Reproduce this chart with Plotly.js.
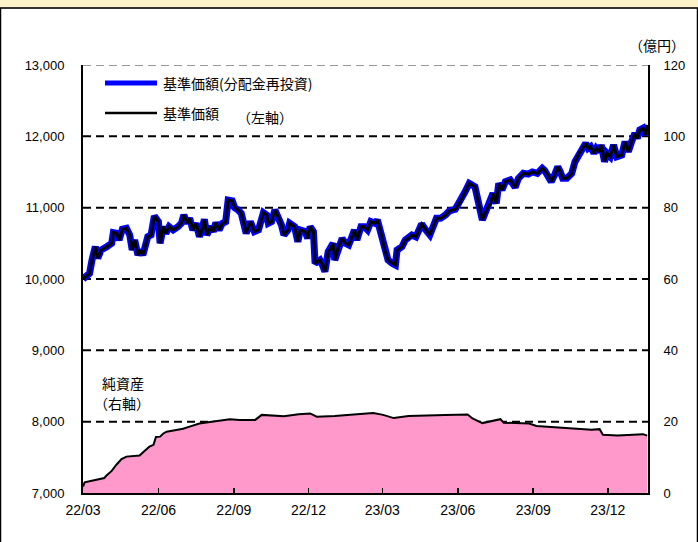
<!DOCTYPE html>
<html>
<head>
<meta charset="utf-8">
<script src="https://cdn.plot.ly/plotly-3.0.1.min.js"></script>
<style>
html,body{margin:0;padding:0;background:#fff;}
#chart{width:698px;height:542px;}
</style>
</head>
<body>
<div id="chart"></div>
<script>
// ---- data ----
const navDates = ['2022-03-01','2022-03-09','2022-03-12','2022-03-16','2022-03-19','2022-03-23','2022-03-30','2022-04-05','2022-04-07','2022-04-11',
'2022-04-14','2022-04-18','2022-04-23','2022-04-27','2022-04-30','2022-05-03','2022-05-07','2022-05-10','2022-05-13','2022-05-19',
'2022-05-23','2022-05-27','2022-06-01','2022-06-03','2022-06-07','2022-06-10','2022-06-14','2022-06-19','2022-06-25','2022-06-29',
'2022-07-02','2022-07-06','2022-07-09','2022-07-13','2022-07-17','2022-07-21','2022-07-24','2022-07-27','2022-07-30','2022-08-04',
'2022-08-07','2022-08-10','2022-08-14','2022-08-18','2022-08-22','2022-08-25','2022-08-30','2022-09-02','2022-09-06','2022-09-10',
'2022-09-16','2022-09-21','2022-09-26','2022-10-01','2022-10-07','2022-10-11','2022-10-13','2022-10-17','2022-10-21','2022-10-25',
'2022-10-29','2022-11-01','2022-11-06','2022-11-08','2022-11-14','2022-11-18','2022-11-21','2022-11-27','2022-11-30','2022-12-03',
'2022-12-07','2022-12-09','2022-12-15','2022-12-18','2022-12-21','2022-12-25','2022-12-28','2022-12-31','2023-01-02','2023-01-06',
'2023-01-11','2023-01-15','2023-01-19','2023-01-23','2023-01-26','2023-01-29','2023-02-03','2023-02-07','2023-02-11','2023-02-15',
'2023-02-20','2023-02-23','2023-02-28','2023-03-04','2023-03-08','2023-03-13','2023-03-17','2023-03-19','2023-03-25','2023-03-29',
'2023-04-02','2023-04-06','2023-04-11','2023-04-18','2023-04-23','2023-04-28','2023-05-06','2023-05-11','2023-05-17','2023-05-22',
'2023-05-29','2023-06-04','2023-06-10','2023-06-15','2023-06-22','2023-07-01','2023-07-07','2023-07-11','2023-07-14','2023-07-18',
'2023-07-21','2023-07-25','2023-07-29','2023-08-04','2023-08-10','2023-08-14','2023-08-20','2023-08-26','2023-08-31','2023-09-06',
'2023-09-12','2023-09-15','2023-09-19','2023-09-23','2023-09-27','2023-10-01','2023-10-04','2023-10-07','2023-10-12','2023-10-18',
'2023-10-22','2023-10-27','2023-10-30','2023-11-04','2023-11-07','2023-11-10','2023-11-14','2023-11-17','2023-11-21','2023-11-23',
'2023-11-27','2023-11-30','2023-12-04','2023-12-08','2023-12-12','2023-12-18','2023-12-22','2023-12-26','2023-12-30','2024-01-03',
'2024-01-06','2024-01-09','2024-01-13','2024-01-16','2024-01-18'];

// 基準価額
const navValues = [10000,10080,10266,10453,10290,10406,10453,10500,10650,10640,
10547,10697,10711,10617,10406,10547,10336,10406,10336,10594,
10617,10883,10804,10500,10734,10640,10734,10687,10734,10781,
10897,10781,10851,10687,10781,10594,10687,10837,10617,10734,
10664,10790,10687,10781,10804,11107,11097,11000,10967,10921,
10640,10804,10664,10687,10930,10897,10781,10804,10967,10874,
10757,10617,10687,10781,10734,10523,10687,10664,10570,10734,
10664,10220,10266,10196,10103,10383,10430,10500,10266,10430,
10570,10500,10477,10594,10687,10547,10734,10734,10687,10804,
10781,10827,10617,10406,10266,10220,10196,10406,10453,10547,
10570,10617,10590,10771,10687,10617,10851,10851,10897,10957,
10977,11084,11224,11341,11294,10827,10991,11061,11200,11061,
11341,11248,11364,11388,11285,11411,11481,11470,11500,11481,
11551,11520,11458,11364,11458,11574,11504,11411,11411,11481,
11645,11762,11808,11902,11832,11855,11762,11832,11785,11879,
11645,11762,11715,11879,11715,11738,11926,11785,11926,12043,
11973,12089,12113,12019,12159];

// 基準価額(分配金再投資) — coincides with 基準価額 in the reference
const navReinvestValues = [10000,10080,10266,10453,10290,10406,10453,10500,10650,10640,
10547,10697,10711,10617,10406,10547,10336,10406,10336,10594,
10617,10883,10804,10500,10734,10640,10734,10687,10734,10781,
10897,10781,10851,10687,10781,10594,10687,10837,10617,10734,
10664,10790,10687,10781,10804,11107,11097,11000,10967,10921,
10640,10804,10664,10687,10930,10897,10781,10804,10967,10874,
10757,10617,10687,10781,10734,10523,10687,10664,10570,10734,
10664,10220,10266,10196,10103,10383,10430,10500,10266,10430,
10570,10500,10477,10594,10687,10547,10734,10734,10687,10804,
10781,10827,10617,10406,10266,10220,10196,10406,10453,10547,
10570,10617,10590,10771,10687,10617,10851,10851,10897,10957,
10977,11084,11224,11341,11294,10827,10991,11061,11200,11061,
11341,11248,11364,11388,11285,11411,11481,11470,11500,11481,
11551,11520,11458,11364,11458,11574,11504,11411,11411,11481,
11645,11762,11808,11902,11832,11855,11762,11832,11785,11879,
11645,11762,11715,11879,11715,11738,11926,11785,11926,12043,
11973,12089,12113,12019,12159];

// 純資産 (億円)
const assetDates = ['2022-03-01','2022-03-03','2022-03-09','2022-03-15','2022-03-21','2022-03-27','2022-03-30','2022-04-05','2022-04-11','2022-04-17',
'2022-04-23','2022-05-01','2022-05-09','2022-05-15','2022-05-21','2022-05-26','2022-05-29','2022-06-03','2022-06-07','2022-06-11',
'2022-06-21','2022-07-01','2022-07-09','2022-07-21','2022-08-03','2022-08-15','2022-08-27','2022-09-08','2022-09-27','2022-10-05',
'2022-10-15','2022-11-01','2022-11-19','2022-12-03','2022-12-11','2023-01-02','2023-01-29','2023-02-18','2023-03-02','2023-03-15',
'2023-04-02','2023-04-22','2023-05-17','2023-06-13','2023-06-19','2023-07-01','2023-07-13','2023-07-23','2023-07-27','2023-08-27',
'2023-09-05','2023-09-26','2023-10-10','2023-11-11','2023-11-21','2023-11-25','2023-12-13','2024-01-13','2024-01-18'];
const assetValues = [1.8,3.0,3.3,3.6,3.9,4.2,5.0,6.2,8.0,9.5,
10.2,10.3,10.5,11.8,13.0,13.5,15.7,15.8,16.7,17.2,
17.6,18.0,18.6,19.5,19.9,20.3,20.7,20.5,20.5,21.9,
21.8,21.5,22.1,22.3,21.4,21.6,22.1,22.4,21.9,21.0,
21.6,21.8,21.9,22.0,20.9,19.6,20.3,20.7,19.7,19.5,
18.8,18.5,18.1,17.7,17.9,16.3,16.1,16.5,16.1];

const xTickVals = ['2022-03-01','2022-06-01','2022-09-01','2022-12-01','2023-03-01','2023-06-01','2023-09-01','2023-12-01'];
const xTickText = ['22/03','22/06','22/09','22/12','23/03','23/06','23/09','23/12'];
const xRange = ['2022-03-01','2024-01-19'];
const yLeftTicks = [7000,8000,9000,10000,11000,12000,13000];
const yRightTicks = [0,20,40,60,80,100,120];
const gridVals = [8000,9000,10000,11000,12000];
const topVal = 13000;

const seriesNames = ['基準価額(分配金再投資)','基準価額','純資産'];

// ---- drawing ----
const FONT = 'Liberation Sans, Arial, "Noto Sans CJK JP", sans-serif';
const CJK = '"Noto Sans CJK JP", sans-serif';

const traces = [
  {
    x: assetDates, y: assetValues, yaxis: 'y2', name: seriesNames[2],
    type: 'scatter', mode: 'lines', fill: 'tozeroy',
    fillcolor: '#ff99cc', line: {color: '#000', width: 2}, hoverinfo: 'skip'
  },
  {
    x: navDates, y: navReinvestValues, name: seriesNames[0],
    type: 'scatter', mode: 'lines', line: {color: '#0000ff', width: 7}
  },
  {
    x: navDates, y: navValues, name: seriesNames[1],
    type: 'scatter', mode: 'lines', line: {color: '#000000', width: 3}
  }
];

// paper coordinate helpers for the decorative frame (plot area: l=83,r=50,t=65,b=49)
const PW = 565, PH = 428, L = 83, T = 65;
const px = v => (v - L) / PW;
const py = v => (T + PH - v) / PH;

const shapes = [];
gridVals.forEach(v => shapes.push({type:'line', xref:'paper', x0:0, x1:1, yref:'y', y0:v, y1:v,
  line:{color:'#000', width:2, dash:'8px,5px'}, layer:'below'}));
shapes.push({type:'line', xref:'paper', x0:0, x1:1, yref:'y', y0:topVal, y1:topVal,
  line:{color:'#999', width:2, dash:'8px,5px'}, layer:'below'});
// top cream band & frame
shapes.push({type:'rect', xref:'paper', yref:'paper', x0:px(0), x1:px(698), y0:py(8), y1:py(0),
  fillcolor:'#fdf1c9', line:{width:0}, layer:'below'});
shapes.push({type:'line', xref:'paper', yref:'paper', x0:px(0), x1:px(698), y0:py(8), y1:py(8),
  line:{color:'#333', width:2}});
shapes.push({type:'line', xref:'paper', yref:'paper', x0:px(0.5), x1:px(0.5), y0:py(8), y1:py(542),
  line:{color:'#000', width:1.5}});
shapes.push({type:'line', xref:'paper', yref:'paper', x0:px(697.5), x1:px(697.5), y0:py(8), y1:py(542),
  line:{color:'#000', width:1.5}});
// legend samples
shapes.push({type:'line', xref:'paper', yref:'paper', x0:px(105), x1:px(157), y0:py(83), y1:py(83),
  line:{color:'#0000ff', width:5}});
shapes.push({type:'line', xref:'paper', yref:'paper', x0:px(105), x1:px(157), y0:py(113), y1:py(113),
  line:{color:'#000', width:2.5}});

const ann = (text, x, y, anchor) => ({text, xref:'paper', yref:'paper', x:px(x), y:py(y),
  xanchor: anchor || 'center', yanchor:'middle', showarrow:false,
  font:{family:CJK, size:14, color:'#000'}});

const annotations = [
  ann(seriesNames[0], 161, 83, 'left'),
  ann(seriesNames[1], 161, 113, 'left'),
  ann('（左軸）', 265, 117),
  ann(seriesNames[2], 123, 383),
  ann('（右軸）', 122, 403),
  ann('（億円）', 657, 45)
];

const layout = {
  width: 698, height: 542,
  margin: {l: 83, r: 50, t: 65, b: 49, pad: 0},
  paper_bgcolor: '#ffffff', plot_bgcolor: 'rgba(0,0,0,0)',
  showlegend: false,
  font: {family: FONT, size: 13, color: '#000'},
  xaxis: {
    type: 'date', range: xRange, tickmode: 'array', tickvals: xTickVals, ticktext: xTickText,
    ticks: 'inside', ticklen: 5, tickwidth: 1.5, tickcolor: '#000',
    showgrid: false, zeroline: false, showline: true, linecolor: '#000', linewidth: 2,
    tickfont: {family: FONT, size: 14, color: '#000'}, ticklabelstandoff: 3
  },
  yaxis: {
    range: [7000, 13000], tickmode: 'array', tickvals: yLeftTicks, tickformat: ',d',
    ticks: '', showgrid: false, zeroline: false, showline: true, linecolor: '#000', linewidth: 2,
    tickfont: {family: FONT, size: 13, color: '#000'}, ticklabelstandoff: 14
  },
  yaxis2: {
    range: [0, 120], overlaying: 'y', side: 'right', tickmode: 'array', tickvals: yRightTicks,
    ticks: '', showgrid: false, zeroline: false, showline: true, linecolor: '#000', linewidth: 2,
    tickfont: {family: FONT, size: 13, color: '#000'}, ticklabelstandoff: 11
  },
  shapes, annotations
};

Plotly.newPlot('chart', traces, layout, {displayModeBar: false, staticPlot: true});
</script>
</body>
</html>
